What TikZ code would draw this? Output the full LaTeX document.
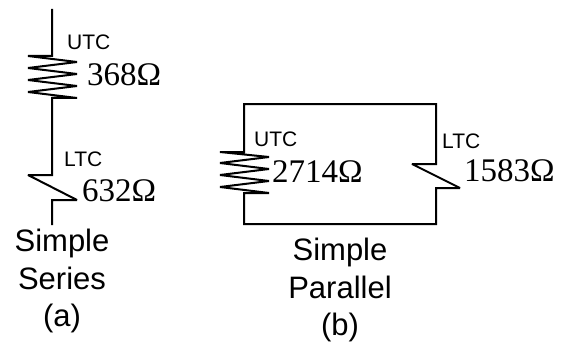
\documentclass[tikz,border=0pt]{standalone}
\usepackage{fontspec}
\setmainfont{Liberation Sans}
\newfontfamily\ohmfont{Liberation Serif}
\tikzset{
  wire/.style={line width=2pt,line join=miter,miter limit=3,black},
  tag/.style={inner sep=0pt,anchor=base west,font=\fontsize{21}{22}\selectfont},
  ohm/.style={inner sep=0pt,anchor=base west,font=\ohmfont\fontsize{33}{34}\selectfont},
  captext/.style={inner sep=0pt,align=center,font=\fontsize{31}{37.5}\selectfont}
}
\begin{document}
\begin{tikzpicture}[x=1pt,y=-1pt]
\useasboundingbox (0,0) rectangle (561,342);
\fill[white] (0,0) rectangle (561,342);
% series circuit
\draw[wire] (52,9) -- (52,56) -- (28,56) -- (77,62) -- (28,68) -- (77,74) -- (28,80) -- (77,86) -- (28,92) -- (77,98) -- (52,98) -- (52,175) -- (28,175) -- (77,200) -- (52,200) -- (52,225);
% parallel circuit
\draw[wire] (244,152) -- (244,104) -- (436,104) -- (436,164) -- (412,164) -- (460,188) -- (436,188) -- (436,224) -- (244,224) -- (244,193) -- (269,193) -- (220,187) -- (269,181) -- (220,175) -- (269,169) -- (220,163) -- (269,157) -- (220,152) -- cycle;
\node[tag] (u1) at (67,50) {UTC};
\node[tag] (l1) at (64,166) {LTC};
\node[tag] (u2) at (254,146) {UTC};
\node[tag] (l2) at (442,148) {LTC};
\node[ohm] (r1) at (87,86) {368Ω};
\node[ohm] (r2) at (82,201) {632Ω};
\node[ohm] (r3) at (272,182) {2714Ω};
\node[ohm] (r4) at (464,181) {1583Ω};
\node[captext] (c1) at (62,281) {Simple\\Series\\(a)};
\node[captext] (c2) at (340,290) {Simple\\Parallel\\(b)};
\end{tikzpicture}
\end{document}
